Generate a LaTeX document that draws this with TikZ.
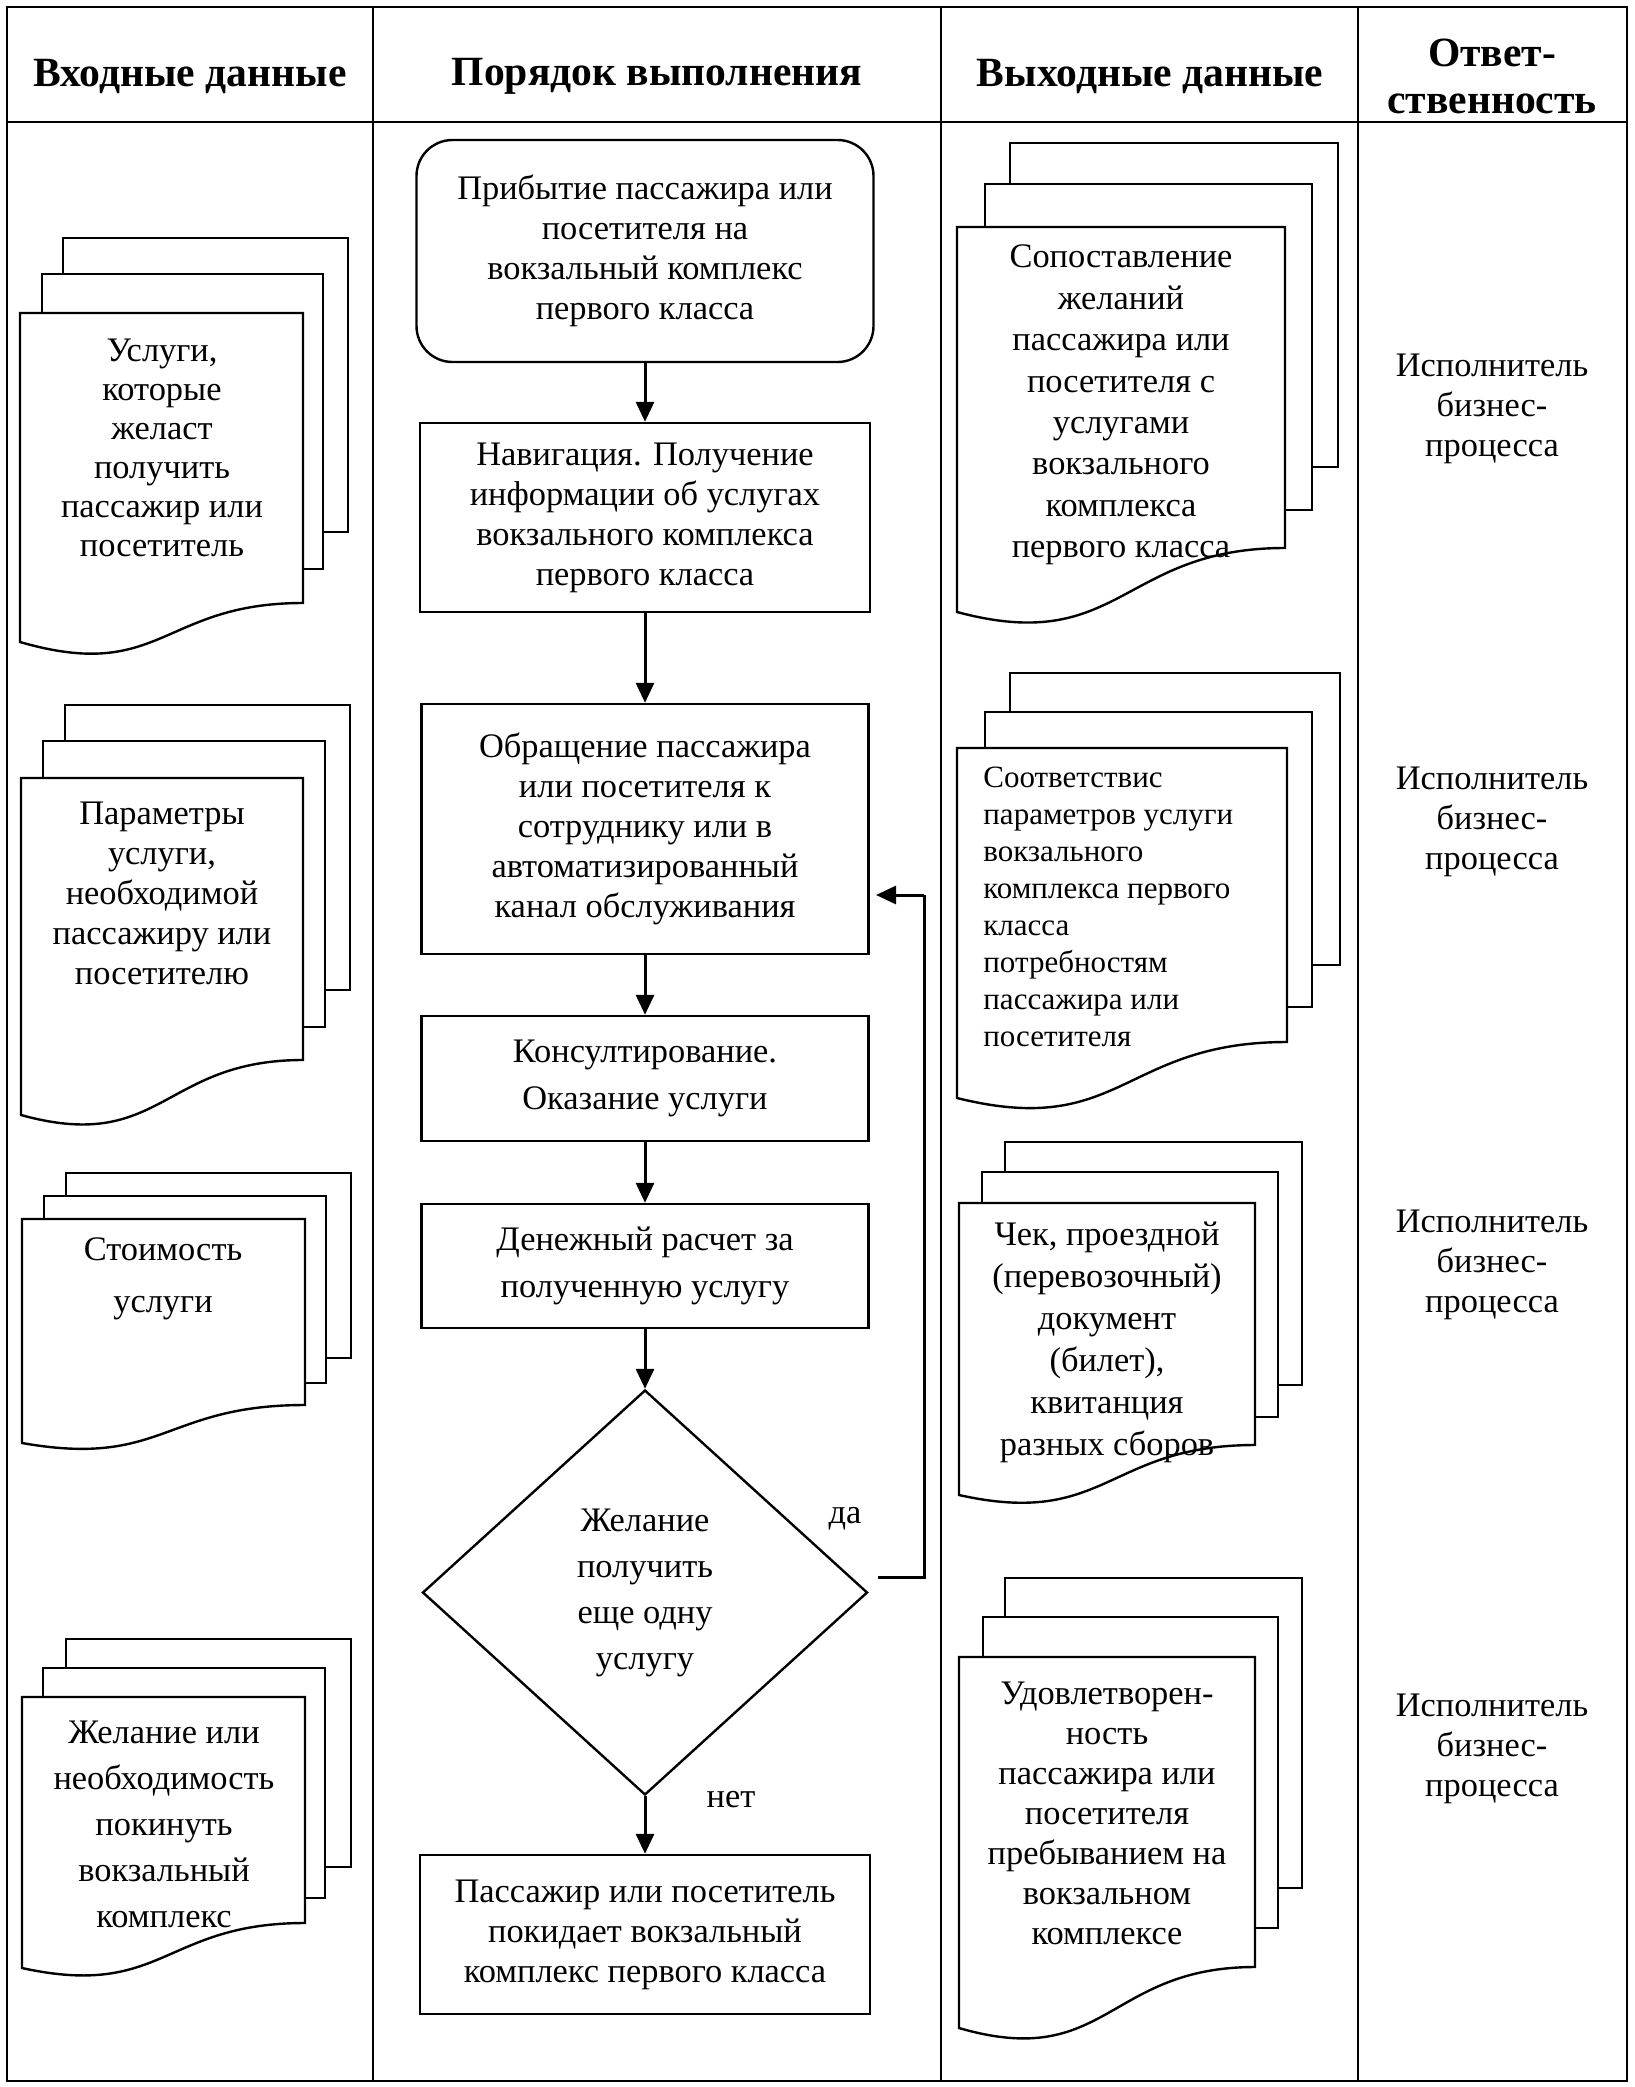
\documentclass[tikz,border=0pt]{standalone}
\usepackage{fontspec}
\setmainfont{Liberation Serif}
\usetikzlibrary{arrows.meta,shapes.geometric}
\begin{document}
\begin{tikzpicture}[x=0.5pt,y=-0.5pt,
 pg/.style={draw,fill=white,line width=1.2pt,line join=miter},
 proc/.style={draw,line width=1.2pt,align=center,inner sep=0pt,font=\fontsize{17.2}{20}\selectfont},
 arr/.style={line width=1.5pt,-{Triangle[length=10pt,width=9pt]}},
 seg/.style={line width=1.5pt},
 txt/.style={align=center,inner sep=0pt,font=\fontsize{17.2}{20}\selectfont},
 hdr/.style={align=center,inner sep=0pt,font=\bfseries\fontsize{20.8}{23.5}\selectfont},
 tbl/.style={line width=1pt}]
\useasboundingbox (0,0) rectangle (1634,2087);
\fill[white] (0,0) rectangle (1634,2087);
% table
\draw[tbl] (7,7) rectangle (1627,2081);
\draw[tbl] (7,122) -- (1627,122);
\draw[tbl] (373,7) -- (373,2081);
\draw[tbl] (941,7) -- (941,2081);
\draw[tbl] (1358,7) -- (1358,2081);
% headers
\node[hdr] (h1) at (190,76) {Входные данные};
\node[hdr] (h2) at (657,76) {Порядок выполнения};
\node[hdr] (h3) at (1150,76) {Выходные данные};
\node[hdr] (h4) at (1492,76) {Ответ-\\ственность};
% process column
\node[proc,rounded corners=18pt,minimum width=228.5pt,minimum height=111pt] (b1) at (645,251) {Прибытие пассажира или\\посетителя на\\вокзальный комплекс\\первого класса};
\node[proc,minimum width=225pt,minimum height=94.5pt] (b2) at (645,517.5) {Навигация. Получение\\информации об услугах\\вокзального комплекса\\первого класса};
\node[proc,minimum width=223.5pt,minimum height=125pt] (b3) at (645,829) {Обращение пассажира\\или посетителя к\\сотруднику или в\\автоматизированный\\канал обслуживания};
\node[proc,minimum width=223.5pt,minimum height=62.5pt,font=\fontsize{17.2}{23.5}\selectfont] (b4) at (645,1078.5) {Консултирование.\\Оказание услуги};
\node[proc,minimum width=223.5pt,minimum height=62pt,font=\fontsize{17.2}{23.5}\selectfont] (b5) at (645,1266) {Денежный расчет за\\полученную услугу};
\node[proc,diamond,minimum width=222.5pt,minimum height=202.5pt,font=\fontsize{17.2}{23}\selectfont] (dia) at (645,1592.5) {Желание\\получить\\еще одну\\услугу};
\node[proc,minimum width=225pt,minimum height=79.5pt] (b6) at (645,1934.5) {Пассажир или посетитель\\покидает вокзальный\\комплекс первого класса};
\draw[arr] (b1.south) -- (b2.north);
\draw[arr] (b2.south) -- (b3.north);
\draw[arr] (b3.south) -- (b4.north);
\draw[arr] (b4.south) -- (b5.north);
\draw[arr] (b5.south) -- (dia.north);
\draw[arr] (dia.south) -- (b6.north);
\coordinate (yA) at (878,1577);
\coordinate (yB) at (924,895);
\coordinate (yC) at (876,895);
\draw[seg] (yA) -| (yB);
\draw[arr] (yB) -- (yC);
\node[txt] (da) at (845,1519) {да};
\node[txt] (net) at (731,1800) {нет};
% responsibility
\node[txt] (r1) at (1492,409) {Исполнитель\\бизнес-\\процесса};
\node[txt] (r2) at (1492,822) {Исполнитель\\бизнес-\\процесса};
\node[txt] (r3) at (1492,1265) {Исполнитель\\бизнес-\\процесса};
\node[txt] (r4) at (1492,1749) {Исполнитель\\бизнес-\\процесса};
% input stacks
\draw[pg] (63,238) rectangle (348,532);
\draw[pg] (42,274) rectangle (323,569);
\draw[pg] (20,313) -- (303,313) -- (303,603) .. controls (161.5,603) and (161.5,683) .. (20,642) -- cycle;
\node[txt,font=\fontsize{17.2}{19.5}\selectfont] (in1) at (162,447.5) {Услуги,\\которые\\желаст\\получить\\пассажир или\\посетитель};
\draw[pg] (65,705) rectangle (350,990);
\draw[pg] (43,741) rectangle (325,1027);
\draw[pg] (21,778) -- (303,778) -- (303,1060) .. controls (162,1060) and (162,1154) .. (21,1115) -- cycle;
\node[txt] (in2) at (162,893) {Параметры\\услуги,\\необходимой\\пассажиру или\\посетителю};
\draw[pg] (66,1173) rectangle (351,1358);
\draw[pg] (44,1196) rectangle (326,1383);
\draw[pg] (22,1219) -- (305,1219) -- (305,1405) .. controls (163.5,1405) and (163.5,1468) .. (22,1443) -- cycle;
\node[txt,font=\fontsize{17.2}{26}\selectfont] (in3) at (163,1279) {Стоимость\\услуги};
\draw[pg] (66,1639) rectangle (351,1867);
\draw[pg] (43,1668) rectangle (325,1898);
\draw[pg] (22,1697) -- (305,1697) -- (305,1923) .. controls (163.5,1923) and (163.5,1999) .. (22,1968) -- cycle;
\node[txt,font=\fontsize{17.2}{23}\selectfont] (in4) at (164,1824.5) {Желание или\\необходимость\\покинуть\\вокзальный\\комплекс};
% output stacks
\draw[pg] (1010,143) rectangle (1338,467);
\draw[pg] (985,184) rectangle (1312,510);
\draw[pg] (957,227) -- (1285,227) -- (1285,548) .. controls (1121,548) and (1121,656) .. (957,612) -- cycle;
\node[txt,font=\fontsize{17.2}{20.7}\selectfont] (out1) at (1121,405) {Сопоставление\\желаний\\пассажира или\\посетителя с\\услугами\\вокзального\\комплекса\\первого класса};
\draw[pg] (1010,673) rectangle (1340,965);
\draw[pg] (985,712) rectangle (1312,1007);
\draw[pg] (957,748) -- (1287,748) -- (1287,1042) .. controls (1122,1042) and (1122,1139) .. (957,1098) -- cycle;
\node[txt,align=left,anchor=west,font=\fontsize{15.5}{18.5}\selectfont] (out2) at (983,907) {Соответствис\\параметров услуги\\вокзального\\комплекса первого\\класса\\потребностям\\пассажира или\\посетителя};
\draw[pg] (1005,1142) rectangle (1302,1385);
\draw[pg] (982,1172) rectangle (1278,1417);
\draw[pg] (959,1203) -- (1255,1203) -- (1255,1445) .. controls (1107,1445) and (1107,1528) .. (959,1495) -- cycle;
\node[txt,font=\fontsize{17.2}{21}\selectfont] (out3) at (1107,1342.5) {Чек, проездной\\(перевозочный)\\документ\\(билет),\\квитанция\\разных сборов};
\draw[pg] (1005,1578) rectangle (1302,1888);
\draw[pg] (983,1617) rectangle (1278,1928);
\draw[pg] (959,1657) -- (1255,1657) -- (1255,1967) .. controls (1107,1967) and (1107,2071) .. (959,2028) -- cycle;
\node[txt] (out4) at (1107,1813) {Удовлетворен-\\ность\\пассажира или\\посетителя\\пребыванием на\\вокзальном\\комплексе};
\end{tikzpicture}
\end{document}
